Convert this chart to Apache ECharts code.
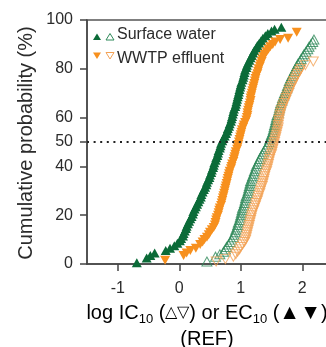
<!DOCTYPE html>
<html>
<head>
<meta charset="utf-8">
<script src="https://cdn.jsdelivr.net/npm/echarts@6/dist/echarts.min.js"></script>
<style>
  html, body { margin: 0; padding: 0; background: #fff; }
  #chart { width: 326px; height: 347px; }
</style>
</head>
<body>
<div id="chart"></div>
<script>
// Cumulative probability (%) versus log effect concentration (REF).
// Each point is [log concentration, cumulative probability %].

// Surface water, EC10 (filled up-triangles)
const surfaceEC10 = [
  [-0.69, 0.5], [-0.53, 2.5], [-0.47, 3.5], [-0.40, 4.5], [-0.22, 5.5], [-0.15, 6.5],
  [-0.08, 7.5], [-0.03, 8.5], [0.01, 9.5], [0.03, 10.5], [0.06, 11.5], [0.07, 12.5],
  [0.09, 13.5], [0.11, 14.5], [0.12, 15.5], [0.14, 16.5], [0.16, 17.5], [0.18, 18.5],
  [0.20, 19.5], [0.22, 20.5], [0.23, 21.5], [0.25, 22.5], [0.27, 23.5], [0.29, 24.5],
  [0.31, 25.5], [0.33, 26.5], [0.35, 27.5], [0.36, 28.5], [0.38, 29.5], [0.40, 30.5],
  [0.42, 31.5], [0.44, 32.5], [0.45, 33.5], [0.47, 34.5], [0.49, 35.5], [0.50, 36.5],
  [0.52, 37.5], [0.53, 38.5], [0.55, 39.5], [0.56, 40.5], [0.57, 41.5], [0.59, 42.5],
  [0.60, 43.5], [0.62, 44.5], [0.63, 45.5], [0.64, 46.5], [0.66, 47.5], [0.67, 48.5],
  [0.68, 49.5], [0.70, 50.5], [0.72, 51.5], [0.74, 52.5], [0.76, 53.5], [0.78, 54.5],
  [0.79, 55.5], [0.81, 56.5], [0.82, 57.5], [0.84, 58.5], [0.85, 59.5], [0.86, 60.5],
  [0.87, 61.5], [0.88, 62.5], [0.89, 63.5], [0.91, 64.5], [0.92, 65.5], [0.93, 66.5],
  [0.94, 67.5], [0.95, 68.5], [0.96, 69.5], [0.97, 70.5], [0.98, 71.5], [0.99, 72.5],
  [1.00, 73.5], [1.01, 74.5], [1.03, 75.5], [1.04, 76.5], [1.05, 77.5], [1.06, 78.5],
  [1.07, 79.5], [1.09, 80.5], [1.10, 81.5], [1.12, 82.5], [1.14, 83.5], [1.16, 84.5],
  [1.18, 85.5], [1.20, 86.5], [1.22, 87.5], [1.25, 88.5], [1.27, 89.5], [1.30, 90.5],
  [1.33, 91.5], [1.36, 92.5], [1.40, 93.5], [1.44, 94.5], [1.50, 95.5], [1.55, 96.2],
  [1.66, 97]
];

// WWTP effluent, EC10 (filled down-triangles)
const wwtpEC10 = [
  [-0.23, 1.5], [0.07, 3.5], [0.12, 4.5], [0.18, 5.5], [0.27, 6.5], [0.34, 8],
  [0.38, 9], [0.41, 10], [0.45, 11], [0.48, 12], [0.50, 13], [0.53, 14],
  [0.56, 15], [0.58, 16], [0.59, 17], [0.60, 18], [0.61, 19], [0.63, 20],
  [0.64, 21], [0.65, 22], [0.66, 23], [0.68, 24], [0.69, 25], [0.70, 26],
  [0.71, 27], [0.72, 28], [0.73, 29], [0.74, 30], [0.75, 31], [0.76, 32],
  [0.77, 33], [0.78, 34], [0.79, 35], [0.80, 36], [0.81, 37], [0.82, 38],
  [0.84, 39], [0.85, 40], [0.86, 41], [0.88, 42], [0.89, 43], [0.90, 44],
  [0.91, 45], [0.92, 46], [0.94, 47], [0.95, 48], [0.96, 49], [0.97, 50],
  [0.98, 51], [0.99, 52], [1.00, 53], [1.01, 54], [1.02, 55], [1.04, 56],
  [1.05, 57], [1.07, 58], [1.09, 59], [1.10, 60], [1.11, 61], [1.11, 62],
  [1.12, 63], [1.13, 64], [1.14, 65], [1.15, 66], [1.16, 67], [1.16, 68],
  [1.17, 69], [1.18, 70], [1.19, 71], [1.20, 72], [1.21, 73], [1.22, 74],
  [1.23, 75], [1.24, 76], [1.25, 77], [1.27, 78], [1.28, 79], [1.29, 80],
  [1.31, 81], [1.32, 82], [1.34, 83], [1.35, 84], [1.37, 85], [1.39, 86],
  [1.42, 87], [1.45, 88], [1.48, 89], [1.52, 90], [1.56, 91], [1.64, 92],
  [1.77, 92.5], [1.91, 95]
];

// Surface water, IC10 (open up-triangles)
const surfaceIC10 = [
  [0.45, 1], [0.59, 3], [0.66, 4], [0.72, 5], [0.75, 6], [0.77, 7],
  [0.80, 8], [0.83, 9], [0.85, 10], [0.88, 11], [0.89, 12], [0.91, 13],
  [0.92, 14], [0.94, 15], [0.95, 16], [0.96, 17], [0.98, 18], [0.99, 19],
  [1.00, 20], [1.01, 21], [1.02, 22], [1.03, 23], [1.05, 24], [1.06, 25],
  [1.07, 26], [1.08, 27], [1.09, 28], [1.11, 29], [1.12, 30], [1.13, 31],
  [1.14, 32], [1.15, 33], [1.16, 34], [1.18, 35], [1.19, 36], [1.21, 37],
  [1.22, 38], [1.24, 39], [1.25, 40], [1.27, 41], [1.29, 42], [1.31, 43],
  [1.33, 44], [1.35, 45], [1.37, 46], [1.40, 47], [1.42, 48], [1.44, 49],
  [1.46, 50], [1.47, 51], [1.49, 52], [1.50, 53], [1.52, 54], [1.53, 55],
  [1.54, 56], [1.55, 57], [1.56, 58], [1.57, 59], [1.58, 60], [1.59, 61],
  [1.61, 62], [1.62, 63], [1.63, 64], [1.64, 65], [1.65, 66], [1.67, 67],
  [1.68, 68], [1.70, 69], [1.71, 70], [1.73, 71], [1.75, 72], [1.76, 73],
  [1.78, 74], [1.79, 75], [1.81, 76], [1.83, 77], [1.85, 78], [1.87, 79],
  [1.89, 80], [1.91, 81], [1.93, 82], [1.96, 83], [1.98, 84], [2.01, 85],
  [2.03, 86], [2.06, 87], [2.09, 88], [2.11, 89], [2.14, 90], [2.17, 91],
  [2.19, 92]
];

// WWTP effluent, IC10 (open down-triangles)
const wwtpIC10 = [
  [0.60, 1], [0.75, 2], [0.88, 3], [0.92, 4], [0.95, 5], [0.98, 6],
  [1.00, 7], [1.03, 8], [1.06, 9], [1.08, 10], [1.09, 11], [1.10, 12],
  [1.11, 13], [1.12, 14], [1.13, 15], [1.14, 16], [1.15, 17], [1.16, 18],
  [1.17, 19], [1.18, 20], [1.19, 21], [1.21, 22], [1.22, 23], [1.24, 24],
  [1.25, 25], [1.27, 26], [1.28, 27], [1.29, 28], [1.31, 29], [1.32, 30],
  [1.33, 31], [1.35, 32], [1.36, 33], [1.37, 34], [1.38, 35], [1.39, 36],
  [1.40, 37], [1.42, 38], [1.43, 39], [1.44, 40], [1.45, 41], [1.46, 42],
  [1.47, 43], [1.48, 44], [1.50, 45], [1.51, 46], [1.52, 47], [1.53, 48],
  [1.54, 49], [1.55, 50], [1.56, 51], [1.57, 52], [1.58, 53], [1.59, 54],
  [1.60, 55], [1.61, 56], [1.61, 57], [1.62, 58], [1.62, 59], [1.63, 60],
  [1.64, 61], [1.65, 62], [1.66, 63], [1.68, 64], [1.69, 65], [1.71, 66],
  [1.73, 67], [1.74, 68], [1.76, 69], [1.78, 70], [1.79, 71], [1.81, 72],
  [1.83, 73], [1.85, 74], [1.86, 75], [1.89, 76], [1.91, 77], [1.93, 78],
  [1.96, 79], [1.98, 80], [2.05, 81.5], [2.18, 83]
];

const yTicks = [0, 20, 40, 50, 60, 80, 100];
const xTicks = [-1, 0, 1, 2];
const medianLevel = 50;

const GREEN = '#0b6b38';
const ORANGE = '#f7901e';
const GREEN_OPEN = '#2f8a5a';
const ORANGE_OPEN = '#f3a256';
const FONT = '"Liberation Sans", Arial, sans-serif';
const INK = '#2b2b2b';

const chart = echarts.init(document.getElementById('chart'), null, { renderer: 'canvas' });

function filled(name, data, color, down) {
  return {
    name, type: 'scatter', data,
    symbol: 'triangle', symbolSize: [10, 9], symbolRotate: down ? 180 : 0,
    itemStyle: { color, opacity: 1 },
    emphasis: { disabled: true }, z: 3
  };
}
function open(name, data, color, down) {
  return {
    name, type: 'scatter', data,
    symbol: 'triangle', symbolSize: [10, 9], symbolRotate: down ? 180 : 0,
    itemStyle: { color: 'rgba(255,255,255,0)', borderColor: color, borderWidth: 1 },
    emphasis: { disabled: true }, z: 4
  };
}

const option = {
  animation: false,
  backgroundColor: '#fff',
  grid: {
    left: 87, top: 20, width: 246, height: 244,
    show: true, borderColor: '#555', borderWidth: 1.5, backgroundColor: 'transparent',
    outerBoundsMode: 'none'
  },
  xAxis: {
    type: 'value', min: -1.5, max: 2.5,
    axisLine: { show: true, onZero: false, lineStyle: { color: '#444', width: 1.5 } },
    axisTick: { show: true, length: 7, lineStyle: { color: '#444', width: 1.5 }, customValues: xTicks },
    axisLabel: { customValues: xTicks, margin: 17, fontSize: 16, color: INK, fontFamily: FONT,
      formatter: v => String(v) },
    splitLine: { show: false }
  },
  yAxis: {
    type: 'value', min: 0, max: 100,
    axisLine: { show: true, onZero: false, lineStyle: { color: '#444', width: 1.5 } },
    axisTick: { show: true, length: 7, lineStyle: { color: '#444', width: 1.5 }, customValues: yTicks },
    axisLabel: { customValues: yTicks, margin: 14, fontSize: 16, color: INK, fontFamily: FONT },
    splitLine: { show: false }
  },
  series: [
    filled('Surface water EC10', surfaceEC10, GREEN, false),
    filled('WWTP effluent EC10', wwtpEC10, ORANGE, true),
    open('Surface water IC10', surfaceIC10, GREEN_OPEN, false),
    open('WWTP effluent IC10', wwtpIC10, ORANGE_OPEN, true),
    {
      name: 'median', type: 'line', data: [],
      markLine: {
        silent: true, symbol: 'none', label: { show: false },
        lineStyle: { color: '#222', width: 2, type: [2, 4.6] },
        data: [{ yAxis: medianLevel }]
      },
      z: 5
    }
  ],
  graphic: [
    // legend
    { type: 'polygon', shape: { points: [[93, 40], [101, 40], [97, 33.5]] }, style: { fill: GREEN } },
    { type: 'polygon', shape: { points: [[106, 40], [114, 40], [110, 33.5]] }, style: { fill: 'none', stroke: GREEN_OPEN, lineWidth: 1 } },
    { type: 'text', x: 117, y: 35, style: { text: 'Surface water', font: '16px ' + FONT, fill: INK, verticalAlign: 'middle' } },
    { type: 'polygon', shape: { points: [[93, 52.5], [101, 52.5], [97, 59]] }, style: { fill: ORANGE } },
    { type: 'polygon', shape: { points: [[106, 52.5], [114, 52.5], [110, 59]] }, style: { fill: 'none', stroke: ORANGE_OPEN, lineWidth: 1 } },
    { type: 'text', x: 117, y: 59, style: { text: 'WWTP effluent', font: '16px ' + FONT, fill: INK, verticalAlign: 'middle' } },
    // y-axis title
    { type: 'text', x: 26, y: 143, rotation: Math.PI / 2,
      style: { text: 'Cumulative probability (%)', font: '20px ' + FONT, fill: INK, align: 'center', verticalAlign: 'middle' } },
    // x-axis title
    { type: 'text', x: 207, y: 300,
      style: {
        text: '{a|log IC}{s|10}{a| (}{og|△}{oo|▽}{a|) or EC}{s|10}{a| (}{fg|▲}{fo|▼}{a|)}\n{a|(REF)}',
        align: 'center', verticalAlign: 'top',
        rich: {
          a: { fontSize: 20, fontFamily: FONT, color: INK, lineHeight: 26, verticalAlign: 'middle' },
          s: { fontSize: 13, fontFamily: FONT, color: INK, lineHeight: 13, padding: [13, 0, 0, 0], verticalAlign: 'middle' },
          og: { fontSize: 16, color: GREEN_OPEN, lineHeight: 26, verticalAlign: 'middle' },
          oo: { fontSize: 16, color: ORANGE_OPEN, lineHeight: 26, verticalAlign: 'middle' },
          fg: { fontSize: 21, color: GREEN, lineHeight: 26, verticalAlign: 'middle' },
          fo: { fontSize: 21, color: ORANGE, lineHeight: 26, verticalAlign: 'middle' }
        }
      }
    }
  ]
};

chart.setOption(option);
</script>
</body>
</html>
